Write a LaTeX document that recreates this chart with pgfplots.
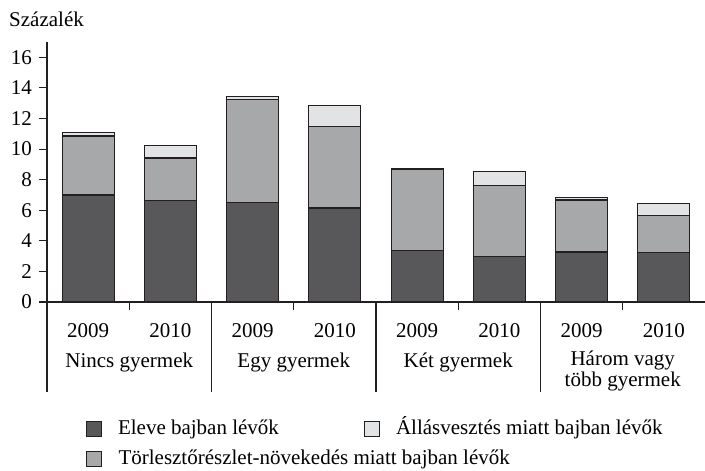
\documentclass[border=0pt]{standalone}
\usepackage{fontspec}
\setmainfont{Liberation Serif}
\usepackage{pgfplots}
\pgfplotsset{compat=1.18}
\definecolor{cdark}{HTML}{58585A}
\definecolor{cmid}{HTML}{A7A8AA}
\definecolor{clight}{HTML}{E2E3E5}
\definecolor{cline}{HTML}{231F20}
\begin{document}
\begin{tikzpicture}[font=\fontsize{21}{19}\selectfont]
\begin{axis}[
  scale only axis,
  width=658pt, height=260pt,
  xmin=-0.5, xmax=7.5, ymin=0, ymax=17,
  axis x line=bottom, axis y line=left,
  axis line style={-, draw=cline, line width=1.1pt},
  ytick={0,2,...,16},
  xtick={0.5,2.5,4.5,6.5}, xticklabels={},
  tick align=outside, major tick length=8pt,
  tick style={draw=cline, line width=1.1pt},
  /pgf/number format/assume math mode=true,
  yticklabel style={inner sep=0pt, xshift=-7pt},
  ybar stacked, bar width=52pt,
  clip=false,
  legend style={at={(rel axis cs:0.0593,-0.442)}, anchor=north west, draw=none, fill=none,
    inner sep=0pt, outer sep=0pt, legend columns=2,
    row sep=12pt,
    nodes={inner sep=0pt, anchor=base west, text depth=0pt},
    /tikz/every odd column/.append style={column sep=16pt},
    /tikz/every even column/.append style={column sep=0pt}},
  legend cell align=left,
  legend image code/.code={\draw[#1, line width=1pt] (0pt,-2pt) rectangle (15pt,13pt);},
  every axis plot/.append style={draw=cline, line width=1.2pt},
]
\addplot[fill=cdark, forget plot] coordinates {(0,7.0) (1,6.65) (2,6.5) (3,6.15) (4,3.35) (5,3.0) (6,3.27) (7,3.25)};
\addplot[fill=cmid, forget plot] coordinates {(0,3.85) (1,2.77) (2,6.73) (3,5.35) (4,5.3) (5,4.6) (6,3.4) (7,2.4)};
\addplot[fill=clight, forget plot] coordinates {(0,0.25) (1,0.8) (2,0.21) (3,1.34) (4,0.1) (5,0.95) (6,0.17) (7,0.8)};
\addlegendimage{fill=cdark, draw=cline}
\addlegendentry{\makebox[246pt][l]{Eleve bajban lévők}}
\addlegendimage{fill=clight, draw=cline}
\addlegendentry{Állásvesztés miatt bajban lévők}
\addlegendimage{fill=cmid, draw=cline}
\addlegendentry{\makebox[0pt][l]{Törlesztőrészlet-növekedés miatt bajban lévők}}
\draw[cline, line width=1.1pt] (axis cs:-0.5,0) -- ++(0pt,-90pt);
\draw[cline, line width=1.1pt] (axis cs:1.5,0) -- ++(0pt,-90pt);
\draw[cline, line width=1.1pt] (axis cs:3.5,0) -- ++(0pt,-90pt);
\draw[cline, line width=1.1pt] (axis cs:5.5,0) -- ++(0pt,-90pt);
\node[anchor=base, inner sep=0pt] at ([yshift=-35pt]axis cs:0,0) {2009};
\node[anchor=base, inner sep=0pt] at ([yshift=-35pt]axis cs:1,0) {2010};
\node[anchor=base, inner sep=0pt] at ([yshift=-35pt]axis cs:2,0) {2009};
\node[anchor=base, inner sep=0pt] at ([yshift=-35pt]axis cs:3,0) {2010};
\node[anchor=base, inner sep=0pt] at ([yshift=-35pt]axis cs:4,0) {2009};
\node[anchor=base, inner sep=0pt] at ([yshift=-35pt]axis cs:5,0) {2010};
\node[anchor=base, inner sep=0pt] at ([yshift=-35pt]axis cs:6,0) {2009};
\node[anchor=base, inner sep=0pt] at ([yshift=-35pt]axis cs:7,0) {2010};
\node[anchor=base, inner sep=0pt] at ([yshift=-65pt]axis cs:0.5,0) {Nincs gyermek};
\node[anchor=base, inner sep=0pt] at ([yshift=-65pt]axis cs:2.5,0) {Egy gyermek};
\node[anchor=base, inner sep=0pt] at ([yshift=-65pt]axis cs:4.5,0) {Két gyermek};
\node[anchor=base, inner sep=0pt, align=center] at ([yshift=-84pt]axis cs:6.5,0) {Három vagy\\több gyermek};
\node[anchor=base west, inner sep=0pt] at ([xshift=-38pt, yshift=15.3pt]rel axis cs:0,1) {Százalék};
\coordinate (sw) at (rel axis cs:0,0);
\coordinate (ne) at (rel axis cs:1,1);
\end{axis}
\pgfresetboundingbox
\path ([shift={(-47pt,-168pt)}]sw) rectangle ([shift={(0pt,42pt)}]ne);
\end{tikzpicture}
\end{document}
